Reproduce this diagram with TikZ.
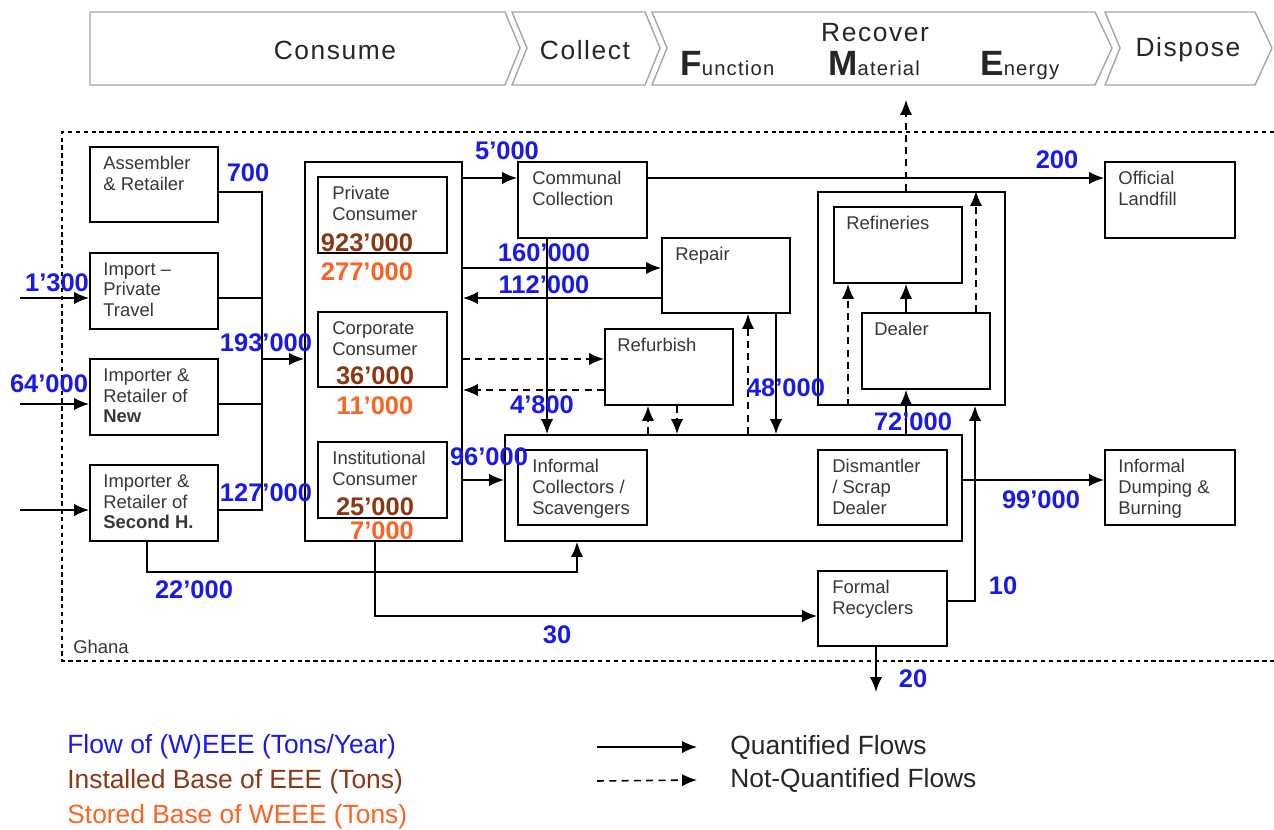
\documentclass[tikz,border=0pt]{standalone}
\usepackage{fontspec}
\setmainfont{Liberation Sans}
\newfontfamily\headfont[LetterSpace=6]{Liberation Sans}
\usetikzlibrary{arrows.meta,fit}
\definecolor{flowblue}{RGB}{25,25,235}
\definecolor{basebrown}{RGB}{140,55,20}
\definecolor{storeorange}{RGB}{250,100,35}
\definecolor{boxtext}{RGB}{55,55,55}
\definecolor{stagegray}{RGB}{165,165,165}
\begin{document}
\begin{tikzpicture}[x=0.02cm,y=-0.02cm,
 box/.style={draw,line width=1.1pt,inner sep=0pt},
 txt/.style={anchor=north west,align=left,inner sep=0pt,text=boxtext,font=\fontsize{10.5}{11.9}\selectfont},
 link/.style={line width=0.9pt},
 flow/.style={link,-{Latex[length=8.5pt,width=7pt]}},
 nflow/.style={flow,dash pattern=on 4pt off 3pt},
 qty/.style={font=\fontsize{14.5}{15}\selectfont\bfseries,text=flowblue,inner sep=0pt},
 inst/.style={qty,text=basebrown},
 stor/.style={qty,text=storeorange},
 stage/.style={draw=stagegray,line width=0.8pt},
 stagetxt/.style={font=\headfont\fontsize{15}{15}\selectfont,inner sep=0pt,text=black!85},
 legtxt/.style={anchor=west,inner sep=0pt,font=\fontsize{15}{15}\selectfont}]

\useasboundingbox (0,0) rectangle (1274,830);

% stages
\draw[stage] (90,12) -- (505,12) -- (520,48) -- (505,85) -- (90,85) -- cycle;
\draw[stage] (512,12) -- (645,12) -- (660,48) -- (645,85) -- (512,85) -- (527,48) -- cycle;
\draw[stage] (652,12) -- (1095,12) -- (1112,48) -- (1095,85) -- (652,85) -- (667,48) -- cycle;
\draw[stage] (1105,12) -- (1255,12) -- (1272,48) -- (1255,85) -- (1105,85) -- (1120,48) -- cycle;
\node[stagetxt] (consume) at (335,50) {Consume};
\node[stagetxt] (collect) at (585,50) {Collect};
\node[stagetxt] (recover) at (875,33) {Recover};
\node[stagetxt] (dispose) at (1188,50) {Dispose};
\node[anchor=base west,inner sep=0pt,text=black!85] (func) at (680,76) {\fontsize{20}{20}\selectfont\bfseries F\mdseries\headfont\fontsize{11.5}{12}\selectfont unction};
\node[anchor=base west,inner sep=0pt,text=black!85] (matl) at (828,76) {\fontsize{20}{20}\selectfont\bfseries M\mdseries\headfont\fontsize{11.5}{12}\selectfont aterial};
\node[anchor=base west,inner sep=0pt,text=black!85] (enrg) at (980,76) {\fontsize{20}{20}\selectfont\bfseries E\mdseries\headfont\fontsize{11.5}{12}\selectfont nergy};

% Ghana
\draw[link,dash pattern=on 2.5pt off 2pt] (1274,132) -- (62,132) -- (62,661) -- (1274,661);
\node[txt] (ghana) at (73,640) {Ghana};

% boxes
\node[box,fit={(90,147) (218,222)}] (asm) {};
\node[box,fit={(90,253) (218,329)}] (ipt) {};
\node[box,fit={(90,359) (218,435)}] (newr) {};
\node[box,fit={(90,465) (218,541)}] (sech) {};
\node[box,fit={(305,162) (462,541)}] (cons) {};
\node[box,fit={(318,177) (447,253)}] (priv) {};
\node[box,fit={(318,312) (447,387)}] (corp) {};
\node[box,fit={(318,442) (447,518)}] (inst) {};
\node[box,fit={(518,162) (647,238)}] (comm) {};
\node[box,fit={(662,238) (790,313)}] (rep) {};
\node[box,fit={(605,329) (733,405)}] (refu) {};
\node[box,fit={(505,435) (962,541)}] (infm) {};
\node[box,fit={(518,450) (647,525)}] (coll) {};
\node[box,fit={(818,450) (947,525)}] (dism) {};
\node[box,fit={(818,192) (1005,405)}] (recov) {};
\node[box,fit={(834,207) (962,283)}] (refi) {};
\node[box,fit={(862,313) (990,389)}] (deal) {};
\node[box,fit={(1105,162) (1235,238)}] (land) {};
\node[box,fit={(1105,450) (1235,525)}] (dump) {};
\node[box,fit={(818,571) (947,646)}] (frec) {};

\node[txt] at ([shift={(14,10)}]asm.north west) {Assembler\\\& Retailer};
\node[txt] at ([shift={(14,10)}]ipt.north west) {Import –\\Private\\Travel};
\node[txt] at ([shift={(14,10)}]newr.north west) {Importer \&\\Retailer of\\\textbf{New}};
\node[txt] at ([shift={(14,10)}]sech.north west) {Importer \&\\Retailer of\\\textbf{Second H.}};
\node[txt] at ([shift={(15,10)}]priv.north west) {Private\\Consumer};
\node[txt] at ([shift={(15,10)}]corp.north west) {Corporate\\Consumer};
\node[txt] at ([shift={(15,10)}]inst.north west) {Institutional\\Consumer};
\node[txt] at ([shift={(15,10)}]comm.north west) {Communal\\Collection};
\node[txt] at ([shift={(14,10)}]rep.north west) {Repair};
\node[txt] at ([shift={(13,10)}]refu.north west) {Refurbish};
\node[txt] at ([shift={(15,10)}]coll.north west) {Informal\\Collectors /\\Scavengers};
\node[txt] at ([shift={(15,10)}]dism.north west) {Dismantler\\/ Scrap\\Dealer};
\node[txt] at ([shift={(13,10)}]refi.north west) {Refineries};
\node[txt] at ([shift={(13,10)}]deal.north west) {Dealer};
\node[txt] at ([shift={(14,10)}]land.north west) {Official\\Landfill};
\node[txt] at ([shift={(14,10)}]dump.north west) {Informal\\Dumping \&\\Burning};
\node[txt] at ([shift={(15,10)}]frec.north west) {Formal\\Recyclers};

% inputs
\coordinate (bustop) at (262,192);
\coordinate (busbot) at (262,510);
\coordinate (in1) at (20,298);
\coordinate (in2) at (20,404);
\coordinate (in3) at (20,510);
\draw[flow] (in1) -- (in1 -| ipt.west);
\draw[flow] (in2) -- (in2 -| newr.west);
\draw[flow] (in3) -- (in3 -| sech.west);
\draw[link] (asm.east |- bustop) -- (bustop) -- (busbot) -- (sech.east |- busbot);
\draw[link] (ipt.east |- in1) -- (bustop |- in1);
\draw[link] (newr.east |- in2) -- (bustop |- in2);
\draw[flow] (bustop |- 0,359) -- (cons.west |- 0,359);

% flows
\draw[flow] (cons.east |- 0,178) -- (comm.west |- 0,178);
\draw[flow] (comm.east |- 0,178) -- (land.west |- 0,178);
\draw[flow] (cons.east |- 0,268) -- (rep.west |- 0,268);
\draw[flow] (rep.west |- 0,298) -- (cons.east |- 0,298);
\draw[nflow] (cons.east |- 0,359) -- (refu.west |- 0,359);
\draw[nflow] (refu.west |- 0,390) -- (cons.east |- 0,390);
\draw[flow] (cons.east |- 0,480) -- (infm.west |- 0,480);
\draw[flow] (comm.south -| 547,0) -- (infm.north -| 547,0);
\draw[nflow] (infm.north -| 648,0) -- (refu.south -| 648,0);
\draw[nflow] (refu.south -| 677,0) -- (infm.north -| 677,0);
\draw[nflow] (infm.north -| 748,0) -- (rep.south -| 748,0);
\draw[flow] (rep.south -| 776,0) -- (infm.north -| 776,0);
\draw[flow] (infm.north -| 906,0) -- (deal.south -| 906,0);
\draw[flow] (deal.north -| 906,0) -- (refi.south -| 906,0);
\draw[nflow] (recov.south -| 848,0) -- (refi.south -| 848,0);
\draw[nflow] (deal.north -| 976,0) -- (recov.north -| 976,0);
\draw[nflow] (recov.north -| 906,0) -- (906,100);
\draw[flow] (infm.east |- 0,480) -- (dump.west |- 0,480);
\draw[flow] (frec.east |- 0,601) -- (975,601) -- (recov.south -| 975,0);
\draw[flow] (cons.south -| 375,0) |- (frec.west |- 0,616);
\draw[flow] (sech.south -| 147,0) |- (577,572) -- (infm.south -| 577,0);
\draw[flow] (frec.south -| 876,0) -- (876,692);

% quantities
\node[qty] at (248,173) {700};
\node[qty] at (57,283) {1'300};
\node[qty] at (266,343) {193'000};
\node[qty] at (49,384) {64'000};
\node[qty] at (266,493) {127'000};
\node[inst] at (367,243) {923'000};
\node[stor] at (367,272) {277'000};
\node[inst] at (375,376) {36'000};
\node[stor] at (375,406) {11'000};
\node[inst] at (375,507) {25'000};
\node[stor] at (382,531) {7'000};
\node[qty] at (507,151) {5'000};
\node[qty] at (544,253) {160'000};
\node[qty] at (544,285) {112'000};
\node[qty] at (542,405) {4'800};
\node[qty] at (489,457) {96'000};
\node[qty] at (786,388) {48'000};
\node[qty] at (913,422) {72'000};
\node[qty] at (1057,160) {200};
\node[qty] at (1041,500) {99'000};
\node[qty] at (194,590) {22'000};
\node[qty] at (557,635) {30};
\node[qty] at (1003,586) {10};
\node[qty] at (913,679) {20};

% legend
\node[legtxt,text=flowblue] (lflow) at (67,747) {Flow of (W)EEE (Tons/Year)};
\node[legtxt,text=basebrown] (lbase) at (67,782) {Installed Base of EEE (Tons)};
\node[legtxt,text=storeorange] (lstor) at (67,817) {Stored Base of WEEE (Tons)};
\node[legtxt,text=black!85] (lq) at (730,747) {Quantified Flows};
\node[legtxt,text=black!85] (lnq) at (730,780) {Not-Quantified Flows};
\draw[flow] (597,747) -- ([xshift=-0.66cm]lq.west);
\draw[nflow] (597,781) -- ([xshift=-0.66cm]lnq.west);
\end{tikzpicture}
\end{document}
